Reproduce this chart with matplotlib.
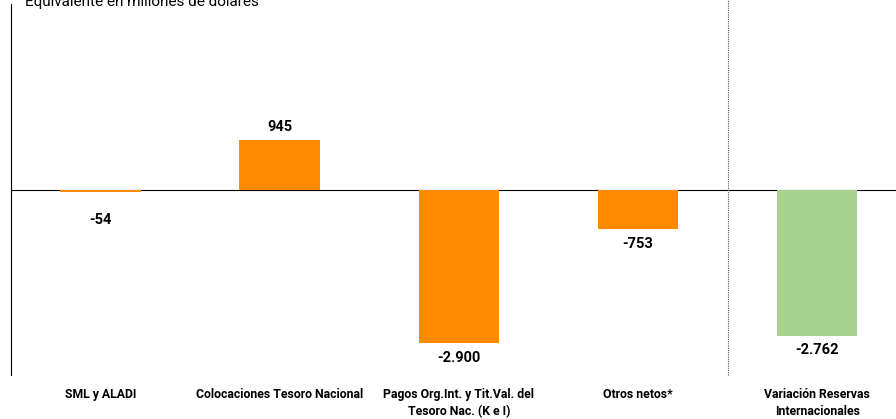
import matplotlib.pyplot as plt

categorias = ["SML y ALADI", "Colocaciones Tesoro Nacional",
              "Pagos Org.Int. y Tit.Val. del\nTesoro Nac. (K e I)",
              "Otros netos*", "Variación Reservas\nInternacionales"]
valores = [-54, 945, -2900, -753, -2762]
etiquetas = ["-54", "945", "-2.900", "-753", "-2.762"]
colores = ["#FF8A00", "#FF8A00", "#FF8A00", "#FF8A00", "#A9D18E"]

plt.rcParams['font.family'] = ['Roboto', 'DejaVu Sans']

fig = plt.figure(figsize=(8.96, 4.19), dpi=100)
ax = fig.add_axes([0.0123, 0.105, 0.9877, 0.885])

x = range(len(valores))
ax.bar(x, valores, width=0.45, color=colores, zorder=2)
ax.axhline(0, color="black", lw=0.8, zorder=1)
ax.axvline(3.5, color="#555555", lw=0.8, ls=(0, (1, 1)), ymin=0, ymax=1.02, clip_on=False)

for xi, v, t in zip(x, valores, etiquetas):
    y = v + 230 if v > 0 else min(v, -300) - 270
    ax.text(xi, y, t, ha="center", va="center", fontsize=10.5, fontweight="bold")

ax.set_xlim(-0.5, 4.44)
ax.set_ylim(-3500, 3500)
ax.set_xticks(list(x))
ax.set_xticklabels(categorias, fontsize=8.8, fontweight="bold", va="top", linespacing=1.45)
ax.tick_params(axis="x", length=0, pad=9)
ax.set_yticks([])
for s in ["top", "right", "bottom"]:
    ax.spines[s].set_visible(False)
ax.spines["left"].set_color("black")
ax.spines["left"].set_linewidth(0.8)

# el titulo queda cortado en el borde superior, como en el original
fig.text(0.028, 1.012, "Equivalente en millones de dólares", fontsize=11, va="top")

fig.savefig("out.png", dpi=100)
